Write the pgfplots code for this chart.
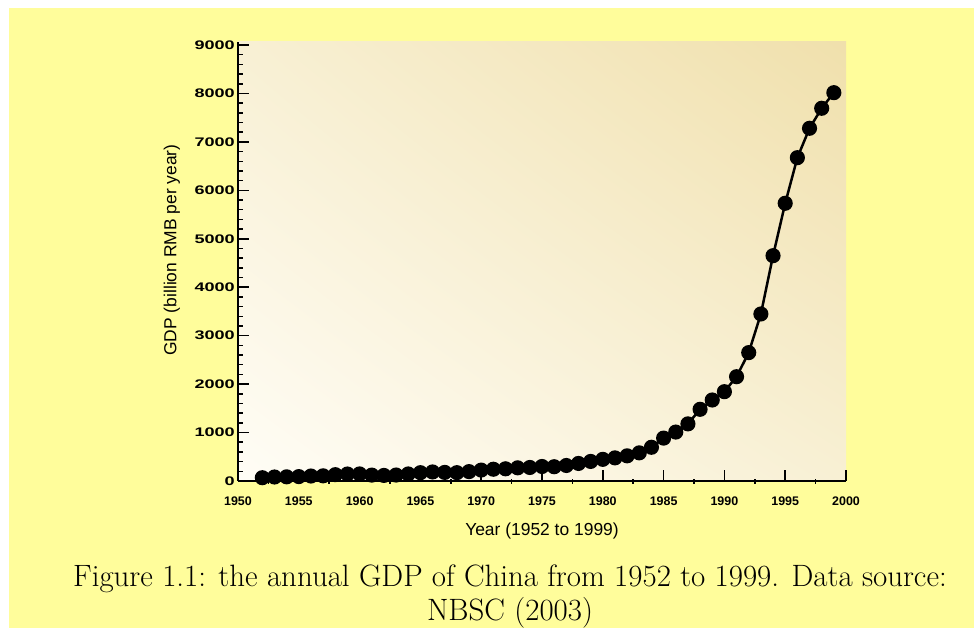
\documentclass[border=0pt]{standalone}
\usepackage{pgfplots}
\pgfplotsset{compat=1.18}
\usetikzlibrary{shadings}
\usepackage{fontspec}
\newfontfamily\arial{Liberation Sans}
\definecolor{bgyellow}{RGB}{255,253,155}
\definecolor{gLL}{RGB}{255,253,246}
\definecolor{gMid}{RGB}{248,240,212}
\definecolor{gUR}{RGB}{240,224,172}
\begin{document}
\begin{tikzpicture}
\fill[white] (0bp,0bp) rectangle (974bp,628bp);
\fill[bgyellow] (9bp,0bp) rectangle (974bp,620bp);
\begin{axis}[
  scale only axis,
  width=608bp, height=439bp,
  at={(238bp,147bp)}, anchor=south west,
  xmin=1950, xmax=2000, ymin=0, ymax=9062,
  axis lines*=left,
  axis line style={line width=2bp, black},
  axis background/.style={shade, lower left=gLL, upper right=gUR, upper left=gMid, lower right=gMid},
  xtick={1950,1955,...,2000},
  minor xtick={1952.5,1957.5,...,1997.5},
  ytick={0,1000,...,9000},
  minor ytick={200,400,...,8800},
  tick align=inside,
  major tick length=11bp,
  minor tick length=5bp,
  tick style={line width=1.5bp, black},
  minor x tick style={yshift=-3bp},
  /pgf/number format/assume math mode=true,
  /pgf/number format/1000 sep={},
  tick label style={font=\arial\bfseries\fontsize{12.5}{14}\selectfont, inner sep=0pt},
  xticklabel style={anchor=base, yshift=-25bp},
  yticklabel style={anchor=east, xshift=-3bp, xscale=1.45},
  xlabel={Year (1952 to 1999)},
  ylabel={GDP (billion RMB per year)},
  label style={font=\arial\fontsize{17.5}{20}\selectfont},
  xlabel style={at={(axis description cs:0.5,-0.114)}, anchor=center},
  ylabel style={at={(axis description cs:-0.1086,0.526)}, anchor=center},
  clip=false,
]
\addplot[black, line width=2.5bp, mark=*, mark size=6.3bp, mark options={solid, fill=black}] coordinates {
(1952,67.9) (1953,82.4) (1954,85.9) (1955,91.0) (1956,102.8) (1957,106.8)
(1958,130.7) (1959,143.9) (1960,145.7) (1961,122.0) (1962,114.9) (1963,123.3)
(1964,145.4) (1965,171.6) (1966,186.8) (1967,177.4) (1968,172.3) (1969,193.8)
(1970,225.3) (1971,242.6) (1972,251.8) (1973,272.1) (1974,279.0) (1975,299.7)
(1976,294.4) (1977,320.2) (1978,362.4) (1979,403.8) (1980,447.0) (1981,477.3)
(1982,519.3) (1983,580.9) (1984,696.2) (1985,885.4) (1986,1010) (1987,1179)
(1988,1480) (1989,1672) (1990,1844) (1991,2153) (1992,2650) (1993,3448)
(1994,4651) (1995,5733) (1996,6674) (1997,7281) (1998,7694) (1999,8016)
};
\end{axis}
\node[anchor=base, inner sep=0pt, font=\fontsize{31}{34}\selectfont] at (510bp,41bp) {Figure 1.1: the annual GDP of China from 1952 to 1999. Data source:};
\node[anchor=base, inner sep=0pt, font=\fontsize{31}{34}\selectfont] at (510bp,8bp) {NBSC (2003)};
\end{tikzpicture}
\end{document}
